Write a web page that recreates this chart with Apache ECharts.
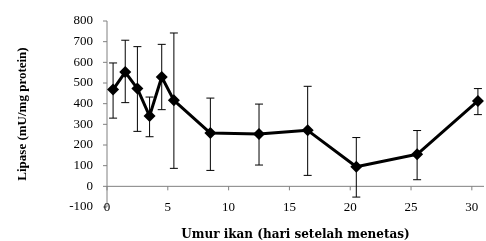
<!DOCTYPE html>
<html><head><meta charset="utf-8">
<script src="https://cdn.jsdelivr.net/npm/echarts@6/dist/echarts.min.js"></script>
<style>html,body{margin:0;padding:0;background:#fff}#c{width:486px;height:241px}</style>
</head><body><div id="c"></div>
<script>
// Day positions (as plotted), mean lipase, and error bar bounds
const days = [0.5, 1.5, 2.5, 3.5, 4.5, 5.5, 8.5, 12.5, 16.5, 20.5, 25.5, 30.5];
const lipase = [468, 553, 473, 340, 529, 416, 258, 253, 271, 95, 155, 413];
const upper = [597, 707, 676, 432, 687, 742, 427, 398, 484, 236, 270, 473];
const lower = [330, 405, 266, 240, 371, 87, 77, 103, 53, -52, 32, 347];
const xTicks = [0, 5, 10, 15, 20, 25, 30];
const yTicks = [-100, 0, 100, 200, 300, 400, 500, 600, 700, 800];

const font = '"Liberation Serif", "Times New Roman", serif';
const wideFont = '"DejaVu Serif", "Liberation Serif", serif';
const axisColor = '#808080';
const X_MIN = 0, X_MAX = 31, Y_MIN = -100, Y_MAX = 800;
const chart = echarts.init(document.getElementById('c'));
chart.setOption({
  animation: false,
  grid: {left: 107, right: 2, top: 21, bottom: 34, outerBoundsMode: 'none', containLabel: false},
  xAxis: {
    type: 'value', min: X_MIN, max: X_MAX, interval: 5,
    axisLine: {show: false},
    axisTick: {show: false},
    axisLabel: {margin: -6, fontFamily: font, fontSize: 13, color: '#000', showMaxLabel: false,
      formatter: v => (xTicks.indexOf(v) >= 0 ? String(v) : '')},
    splitLine: {show: false},
    name: 'Umur ikan (hari setelah menetas)', nameLocation: 'middle', nameGap: 22,
    nameTextStyle: {fontFamily: wideFont, fontSize: 12, fontWeight: 'bold', color: '#000'}
  },
  yAxis: {
    type: 'value', min: Y_MIN, max: Y_MAX, interval: 100,
    axisLine: {show: false},
    axisTick: {show: false},
    axisLabel: {margin: 14, fontFamily: font, fontSize: 13, color: '#000'},
    splitLine: {show: false},
    name: 'Lipase (mU/mg protein)', nameLocation: 'middle', nameGap: 78, nameRotate: 90,
    nameTextStyle: {fontFamily: font, fontSize: 13, fontWeight: 'bold', color: '#000'}
  },
  series: [
    {
      // axis lines and tick marks, drawn through the chart's coordinate system
      type: 'custom',
      data: [[0, 0]],
      silent: true,
      renderItem: function (params, api) {
        const st = {stroke: axisColor, lineWidth: 1};
        const kids = [];
        const x0 = api.coord([X_MIN, 0]), x1 = api.coord([X_MAX, 0]);
        kids.push({type: 'line', shape: {x1: x0[0], y1: x0[1], x2: x1[0], y2: x1[1]}, style: st});
        const y0 = api.coord([0, Y_MIN]), y1 = api.coord([0, Y_MAX]);
        kids.push({type: 'line', shape: {x1: y0[0], y1: y0[1], x2: y1[0], y2: y1[1]}, style: st});
        xTicks.forEach(t => {
          const p = api.coord([t, 0]);
          kids.push({type: 'line', shape: {x1: p[0], y1: p[1], x2: p[0], y2: p[1] + 4}, style: st});
        });
        yTicks.forEach(t => {
          const p = api.coord([0, t]);
          kids.push({type: 'line', shape: {x1: p[0] - 4, y1: p[1], x2: p[0], y2: p[1]}, style: st});
        });
        return {type: 'group', children: kids};
      },
      z: 0
    },
    {
      type: 'custom',
      data: days.map((d, i) => [d, lower[i], upper[i]]),
      renderItem: function (params, api) {
        const x = api.value(0);
        const lo = api.coord([x, api.value(1)]);
        const hi = api.coord([x, api.value(2)]);
        const w = 4;
        const st = {stroke: '#000', lineWidth: 1};
        return {type: 'group', children: [
          {type: 'line', shape: {x1: lo[0], y1: lo[1], x2: hi[0], y2: hi[1]}, style: st},
          {type: 'line', shape: {x1: hi[0] - w, y1: hi[1], x2: hi[0] + w, y2: hi[1]}, style: st},
          {type: 'line', shape: {x1: lo[0] - w, y1: lo[1], x2: lo[0] + w, y2: lo[1]}, style: st}
        ]};
      },
      z: 1
    },
    {
      type: 'line',
      data: days.map((d, i) => [d, lipase[i]]),
      symbol: 'diamond', symbolSize: 12,
      lineStyle: {color: '#000', width: 3},
      itemStyle: {color: '#000'},
      z: 2
    }
  ]
});
</script></body></html>
